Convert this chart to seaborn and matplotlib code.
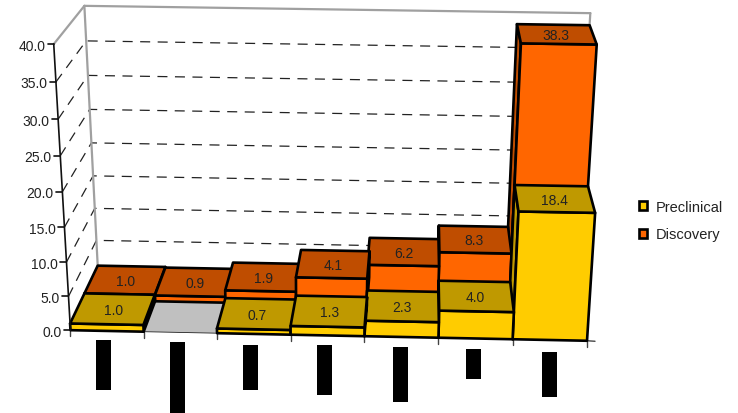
import numpy as np
import pandas as pd
import matplotlib
matplotlib.use("Agg")
import matplotlib.pyplot as plt
from matplotlib.patches import Patch, Polygon, Rectangle
import seaborn as sns

# Chart data: one value per category slot; the second Preclinical slot is empty.
series_names = ["Preclinical", "Discovery"]
preclinical = [1.0, np.nan, 0.7, 1.3, 2.3, 4.0, 18.4]
discovery = [1.0, 0.9, 1.9, 4.1, 6.2, 8.3, 38.3]
y_ticks = [0, 5, 10, 15, 20, 25, 30, 35, 40]

# Solid blocks printed where the category labels sit: top edge and height.
block_left = [96, 170, 243, 317, 393, 466, 542]
block_top = [340, 342, 345, 345, 347, 349, 352]
block_height = [50, 72, 45, 50, 55, 30, 45]

front_colors = ["#FFCC00", "#FF6600"]
top_colors = ["#BF9900", "#BF4D00"]

# Camera calibration: (slot, value, depth) against output pixels.
calib_world = np.array([
    (0, 0, 0), (7, 0, 0), (0, 40, 0), (0, 0, 1), (0, 40, 1), (7, 40, 1),
    (7, 18.4, 0), (7, 18.4, .5), (7, 38.3, .5), (7, 38.3, 1),
    (6, 18.4, 0), (6, 18.4, .5), (6, 38.3, .5), (6, 38.3, 1),
    (0, 1, .5), (1, 1, .5), (0, 1, 1), (1, 1, 1),
    (5, 4, 0), (6, 4, 0), (5, 8.3, .5), (6, 8.3, .5),
], dtype=float)
calib_pixel = np.array([
    (70, 331.5), (587, 342), (53.5, 45), (97.5, 274), (84.5, 7.5), (591, 14),
    (594, 214), (589, 188), (597, 46), (589, 27),
    (518, 212), (514, 186), (522, 44), (516, 24),
    (86, 293), (154, 295.5), (97, 267), (166, 267.7),
    (441, 312), (513, 314), (440, 252), (511, 254),
], dtype=float)


def fit_camera(world, pixel):
    w = world / np.array([7.0, 40.0, 1.0])
    p = pixel / 500.0
    rows = []
    for (a, b, c), (u, v) in zip(w, p):
        rows.append([a, b, c, 1, 0, 0, 0, 0, -u * a, -u * b, -u * c, -u])
        rows.append([0, 0, 0, 0, a, b, c, 1, -v * a, -v * b, -v * c, -v])
    return np.linalg.svd(np.array(rows))[2][-1].reshape(3, 4)


CAMERA = fit_camera(calib_world, calib_pixel)


def project(slot, value, depth):
    h = CAMERA @ np.array([slot / 7.0, value / 40.0, depth, 1.0])
    return h[0] / h[2] * 500.0, h[1] / h[2] * 500.0


def signed_area(points):
    x, y = np.array(points).T
    return np.sum(x * np.roll(y, -1) - np.roll(x, -1) * y)


sns.set_theme(style="white")
plt.rcParams["font.family"] = ["Liberation Sans", "DejaVu Sans"]
fig, ax = plt.subplots(figsize=(7.38, 4.14), dpi=100)
ax.set_position([0, 0, 1, 1])
INK = "#111111"
FRAME = "#A0A0A0"

# Dashed gridlines along the back wall and the left wall.
grid_rows = []
for level in y_ticks[1:-1]:
    for i, pos in enumerate([(0, level, 0), (0, level, 1), (7, level, 1)]):
        x, y = project(*pos)
        grid_rows.append({"level": level, "order": i, "x": x, "y": y})
grid = pd.DataFrame(grid_rows)
sns.lineplot(data=grid, x="x", y="y", units="level", estimator=None, sort=False,
             color="#222222", linewidth=0.9, linestyle=(0, (8, 6)),
             legend=False, ax=ax, zorder=1)

# Grey outline of the walls.
for a, b in [((0, 40, 0), (0, 40, 1)), ((0, 40, 1), (7, 40, 1)),
             ((0, 0, 1), (0, 40, 1)), ((7, 0, 1), (7, 40, 1))]:
    xa, ya = project(*a)
    xb, yb = project(*b)
    ax.plot([xa, xb], [ya, yb], color=FRAME, lw=1.6, zorder=1.5)

# Floor.
floor = [project(0, 0, 0), project(7, 0, 0), project(7, 0, 1), project(0, 0, 1)]
ax.add_patch(Polygon(floor, closed=True, fc="#C0C0C0", ec="#222222", lw=0.6, zorder=2))


def draw_bar(slot, value, d0, d1, front, top, z):
    faces = []
    left = [project(slot, 0, d0), project(slot, value, d0),
            project(slot, value, d1), project(slot, 0, d1)]
    right = [project(slot + 1, 0, d0), project(slot + 1, value, d0),
             project(slot + 1, value, d1), project(slot + 1, 0, d1)]
    if signed_area(left) < 0:
        faces.append((left, top))
    if signed_area(right) > 0:
        faces.append((right, top))
    faces.append(([project(slot, 0, d0), project(slot + 1, 0, d0),
                   project(slot + 1, value, d0), project(slot, value, d0)], front))
    faces.append(([project(slot, value, d0), project(slot + 1, value, d0),
                   project(slot + 1, value, d1), project(slot, value, d1)], top))
    for pts, colour in faces:
        ax.add_patch(Polygon(pts, closed=True, fc=colour, ec="black", lw=1.9,
                             joinstyle="round", zorder=z))


# Back row first, and outer columns before the ones nearest the viewer.
paint_order = [0, 6, 1, 5, 2, 4, 3]
z = 3.0
rows = [(discovery, .5, 1.0, 1), (preclinical, 0.0, .5, 0)]
for values, d0, d1, idx in rows:
    for slot in paint_order:
        value = values[slot]
        if np.isnan(value):
            continue
        draw_bar(slot, value, d0, d1, front_colors[idx], top_colors[idx], z)
        z += 0.01

# Value labels sit on the top faces.
for values, d0, d1, idx in rows:
    for slot, value in enumerate(values):
        if np.isnan(value):
            continue
        x, y = project(slot + .5, value, (d0 + d1) / 2)
        ax.text(x, y + 1, f"{value:.1f}", ha="center", va="center", fontsize=10,
                color="#222222", zorder=8)

# Front value axis with ticks and labels.
xa, ya = project(0, 0, 0)
xb, yb = project(0, 40, 0)
ax.plot([xa, xb], [ya, yb], color=INK, lw=1.2, zorder=7)
for level in y_ticks:
    x, y = project(0, level, 0)
    ax.plot([x - 6, x], [y, y], color=INK, lw=1.2, zorder=7)
    ax.text(x - 8.5, y + 1.5, f"{level:.1f}", ha="right", va="center", fontsize=10,
            color="#222222", zorder=8)

# Category axis ticks below the front edge.
for slot in range(8):
    x, y = project(slot, 0, 0)
    ax.plot([x, x], [y, y + 6], color="#444444", lw=1.0, zorder=2.5)
x, y = project(7, 0, 0)
ax.plot([x, x + 8], [y, y + 0.5], color="#444444", lw=1.0, zorder=2.5)

for left, top, height in zip(block_left, block_top, block_height):
    ax.add_patch(Rectangle((left, top + 0.5), 15, height, fc="black", ec="none", zorder=6))

handles = [Patch(fc=c, ec="black", lw=1.9) for c in front_colors]
ax.legend(handles, series_names, loc="center left", bbox_to_anchor=(639, 221.5),
          bbox_transform=ax.transData, frameon=False, fontsize=10.5, handlelength=0.55,
          handleheight=0.6, handletextpad=0.6, labelspacing=0.95, borderpad=0,
          borderaxespad=0, labelcolor="#222222")

ax.set_xlim(0, 738)
ax.set_ylim(414, 0)
ax.set_xlabel("")
ax.set_ylabel("")
ax.axis("off")
fig.savefig("out.png", dpi=100, facecolor="white")
